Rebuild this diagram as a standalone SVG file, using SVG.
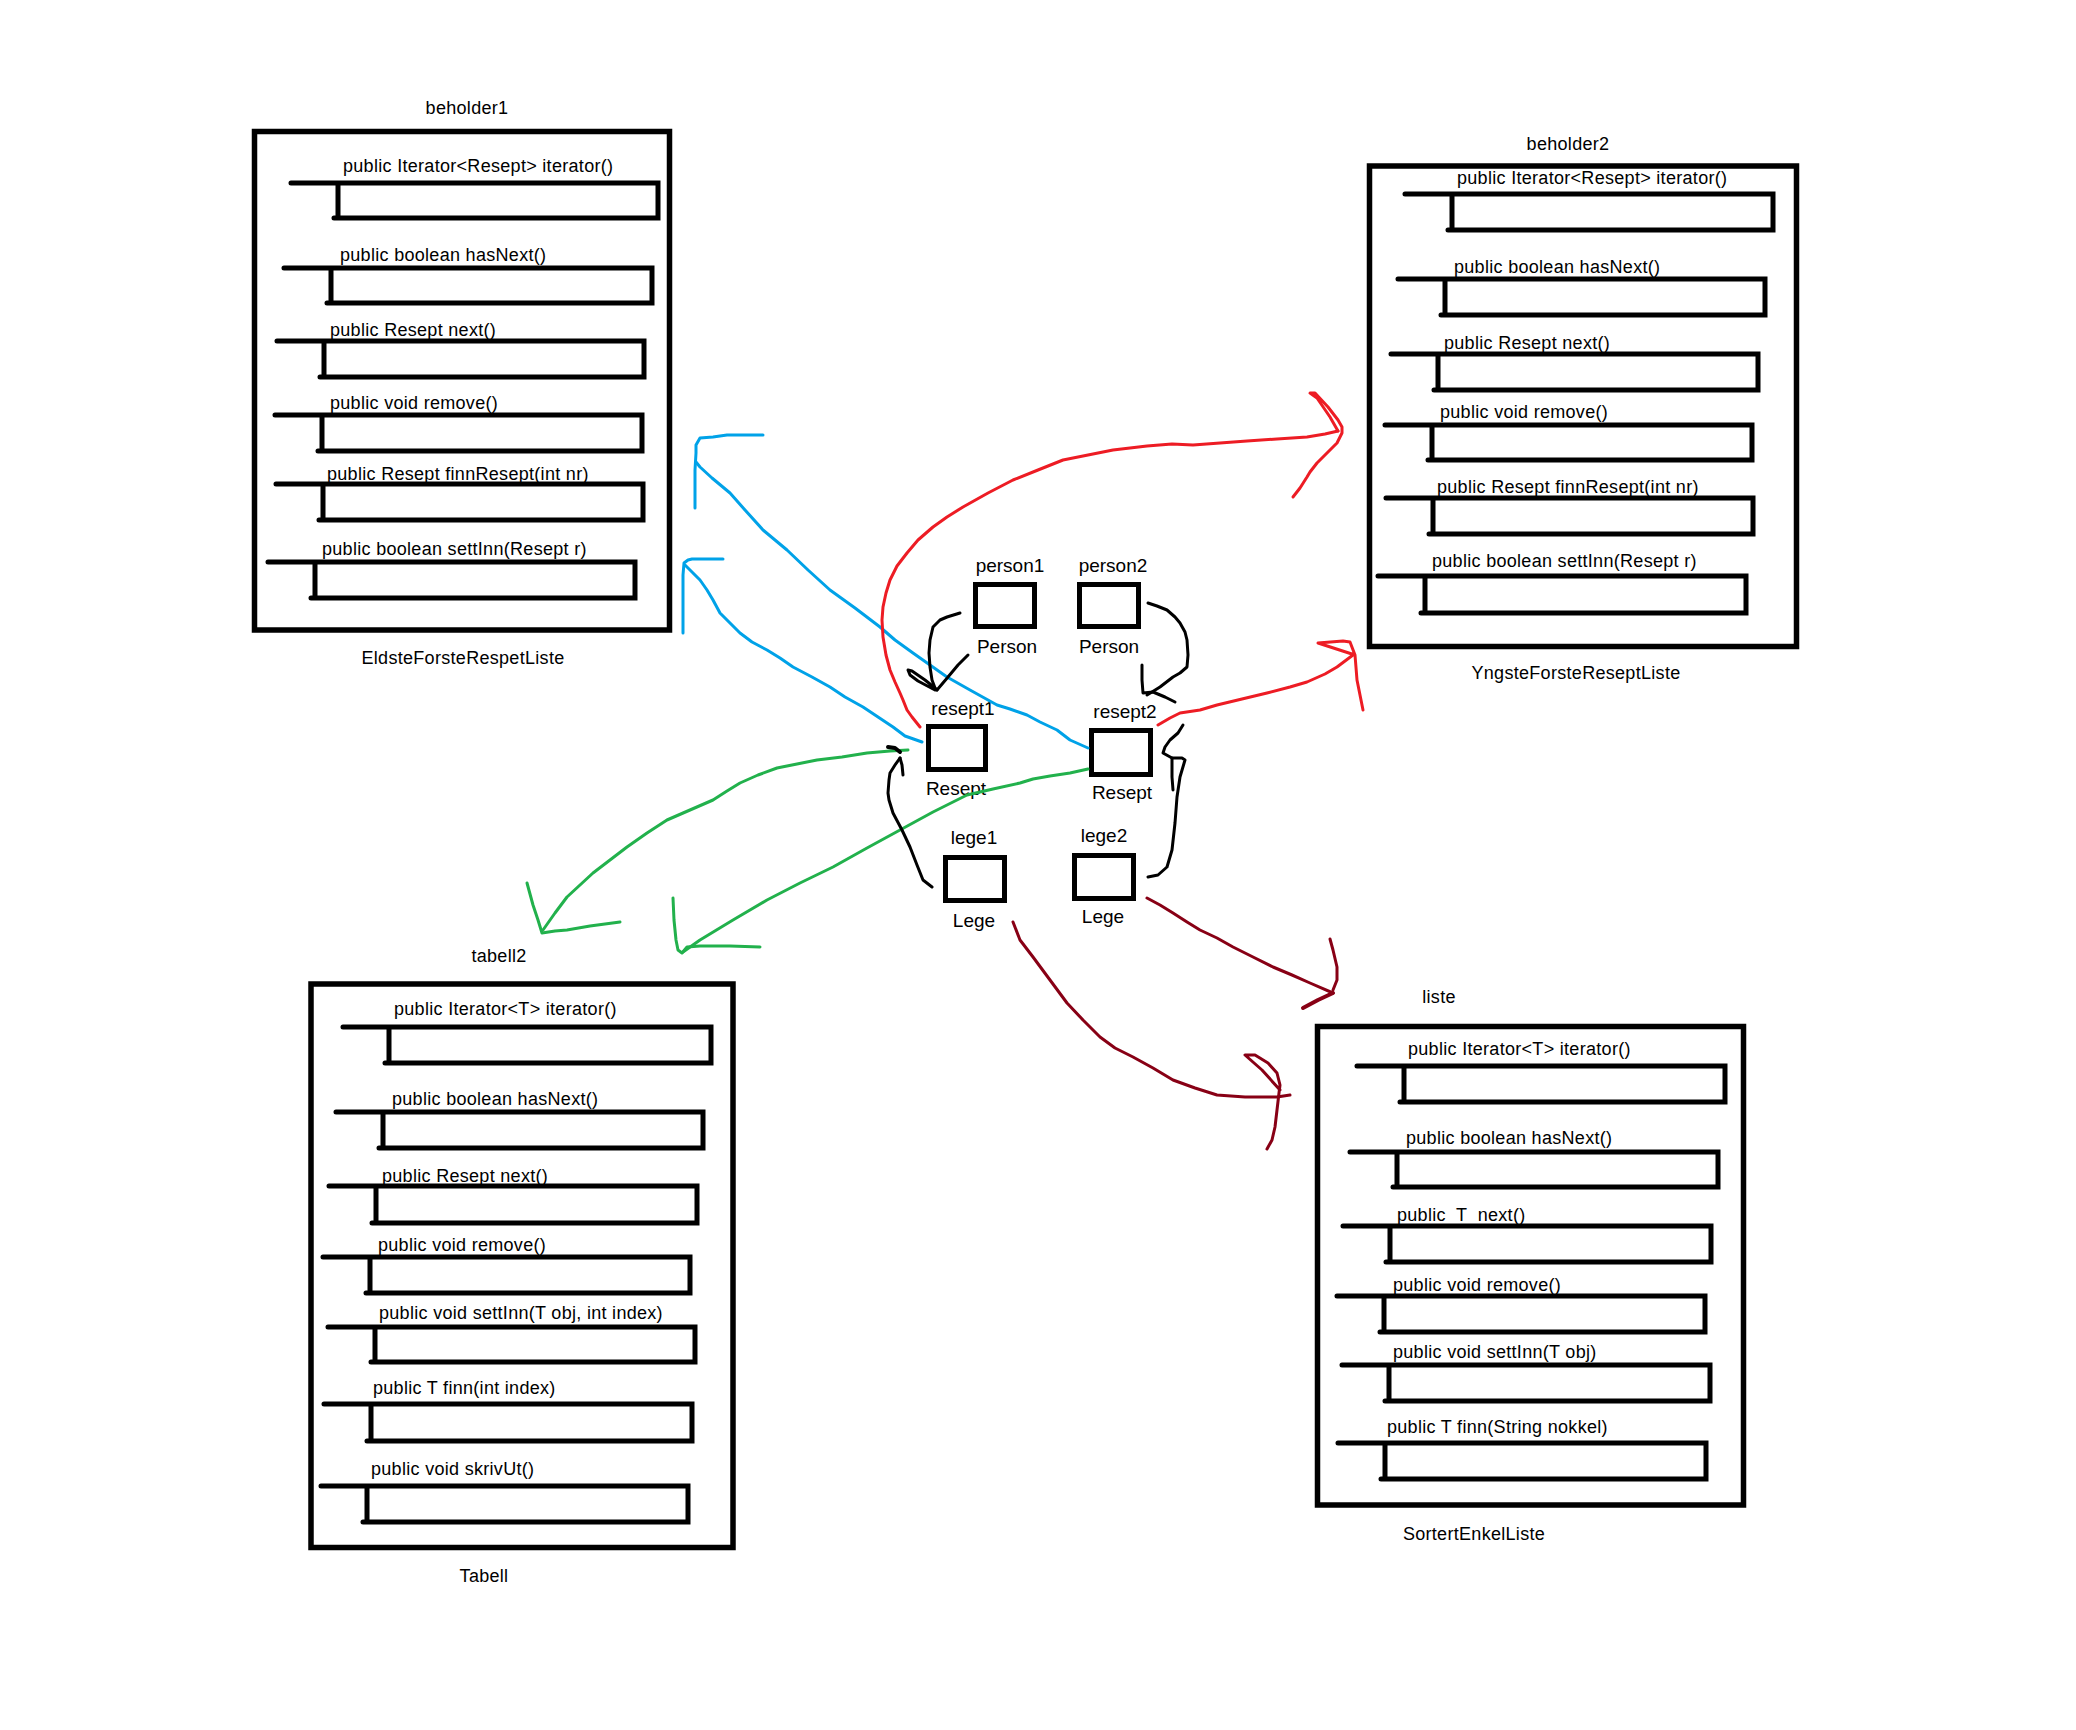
<svg xmlns="http://www.w3.org/2000/svg" width="2076" height="1730" viewBox="0 0 2076 1730">
<style>
.box{fill:none;stroke:#000;stroke-width:5.5}
.row{fill:none;stroke:#000;stroke-width:5;stroke-linecap:round}
.nb{fill:none;stroke:#000;stroke-width:5}
.t{font-family:"Liberation Sans",Arial,sans-serif;font-size:18px;fill:#000;letter-spacing:0.3px}
.n{font-family:"Liberation Sans",Arial,sans-serif;font-size:19px;fill:#000;text-anchor:middle}
.c{text-anchor:middle}
.conn path,.conn polyline{fill:none;stroke-width:3;stroke-linejoin:round;stroke-linecap:round}
.blue{stroke:#00A2E8}
.red{stroke:#ED1C24}
.green{stroke:#22B14C}
.dred{stroke:#880015}
.blk{stroke:#000}
</style>
<rect width="2076" height="1730" fill="#fff"/>

<g id="beholder1">
<text class="t c" x="467" y="114">beholder1</text>
<rect class="box" x="254.5" y="131.5" width="415" height="498.5"/>
<path class="row" d="M291,183H658V218H334M338,183V218"/>
<text class="t" x="343" y="172">public Iterator&lt;Resept&gt; iterator()</text>
<path class="row" d="M284,268H652V303H327M331,268V303"/>
<text class="t" x="340" y="261">public boolean hasNext()</text>
<path class="row" d="M277,341H644V377H320M324,341V377"/>
<text class="t" x="330" y="336">public Resept next()</text>
<path class="row" d="M275,415H642V451H318M322,415V451"/>
<text class="t" x="330" y="409">public void remove()</text>
<path class="row" d="M276,484H643V520H319M323,484V520"/>
<text class="t" x="327" y="480">public Resept finnResept(int nr)</text>
<path class="row" d="M268,562H635V598H311M315,562V598"/>
<text class="t" x="322" y="555">public boolean settInn(Resept r)</text>
<text class="t c" x="463" y="664">EldsteForsteRespetListe</text>
</g>

<g id="beholder2">
<text class="t c" x="1568" y="150">beholder2</text>
<rect class="box" x="1369.5" y="166" width="427" height="480.5"/>
<path class="row" d="M1405,194H1773V230H1448M1452,194V230"/>
<text class="t" x="1457" y="184">public Iterator&lt;Resept&gt; iterator()</text>
<path class="row" d="M1398,279H1765V315H1441M1445,279V315"/>
<text class="t" x="1454" y="273">public boolean hasNext()</text>
<path class="row" d="M1391,354H1758V390H1434M1438,354V390"/>
<text class="t" x="1444" y="349">public Resept next()</text>
<path class="row" d="M1385,425H1752V460H1428M1432,425V460"/>
<text class="t" x="1440" y="418">public void remove()</text>
<path class="row" d="M1386,498H1753V534H1429M1433,498V534"/>
<text class="t" x="1437" y="493">public Resept finnResept(int nr)</text>
<path class="row" d="M1378,576H1746V613H1421M1425,576V613"/>
<text class="t" x="1432" y="567">public boolean settInn(Resept r)</text>
<text class="t c" x="1576" y="679">YngsteForsteReseptListe</text>
</g>

<g id="tabell2">
<text class="t c" x="499" y="962">tabell2</text>
<rect class="box" x="311" y="984" width="422" height="563.5"/>
<path class="row" d="M343,1027H711V1063H385M389,1027V1063"/>
<text class="t" x="394" y="1015">public Iterator&lt;T&gt; iterator()</text>
<path class="row" d="M336,1112H703V1148H379M383,1112V1148"/>
<text class="t" x="392" y="1105">public boolean hasNext()</text>
<path class="row" d="M329,1186H697V1223H372M376,1186V1223"/>
<text class="t" x="382" y="1182">public Resept next()</text>
<path class="row" d="M323,1257H690V1293H366M370,1257V1293"/>
<text class="t" x="378" y="1251">public void remove()</text>
<path class="row" d="M328,1327H695V1362H371M375,1327V1362"/>
<text class="t" x="379" y="1319">public void settInn(T obj, int index)</text>
<path class="row" d="M324,1404H692V1441H367M371,1404V1441"/>
<text class="t" x="373" y="1394">public T finn(int index)</text>
<path class="row" d="M321,1486H688V1522H363M367,1486V1522"/>
<text class="t" x="371" y="1475">public void skrivUt()</text>
<text class="t c" x="484" y="1582">Tabell</text>
</g>

<g id="liste">
<text class="t c" x="1439" y="1003">liste</text>
<rect class="box" x="1317.5" y="1026.5" width="426" height="478.5"/>
<path class="row" d="M1357,1066H1725V1102H1400M1404,1066V1102"/>
<text class="t" x="1408" y="1055">public Iterator&lt;T&gt; iterator()</text>
<path class="row" d="M1350,1152H1718V1187H1393M1397,1152V1187"/>
<text class="t" x="1406" y="1144">public boolean hasNext()</text>
<path class="row" d="M1343,1226H1711V1262H1386M1390,1226V1262"/>
<text class="t" x="1397" y="1221" xml:space="preserve">public  T  next()</text>
<path class="row" d="M1337,1296H1705V1332H1380M1384,1296V1332"/>
<text class="t" x="1393" y="1291">public void remove()</text>
<path class="row" d="M1342,1365H1710V1401H1385M1389,1365V1401"/>
<text class="t" x="1393" y="1358">public void settInn(T obj)</text>
<path class="row" d="M1338,1443H1706V1479H1381M1385,1443V1479"/>
<text class="t" x="1387" y="1433">public T finn(String nokkel)</text>
<text class="t c" x="1474" y="1540">SortertEnkelListe</text>
</g>

<g id="person1">
<text class="n" x="1010" y="572">person1</text>
<rect class="nb" x="975.5" y="584.5" width="59" height="42"/>
<text class="n" x="1007" y="653">Person</text>
</g>
<g id="person2">
<text class="n" x="1113" y="572">person2</text>
<rect class="nb" x="1079.5" y="584.5" width="59" height="42"/>
<text class="n" x="1109" y="653">Person</text>
</g>
<g id="resept1">
<text class="n" x="963" y="715">resept1</text>
<rect class="nb" x="928.5" y="726.5" width="57" height="43"/>
<text class="n" x="956" y="795">Resept</text>
</g>
<g id="resept2">
<text class="n" x="1125" y="718">resept2</text>
<rect class="nb" x="1091.5" y="730.5" width="59" height="44"/>
<text class="n" x="1122" y="799">Resept</text>
</g>
<g id="lege1">
<text class="n" x="974" y="844">lege1</text>
<rect class="nb" x="945.5" y="857.5" width="59" height="43"/>
<text class="n" x="974" y="927">Lege</text>
</g>
<g id="lege2">
<text class="n" x="1104" y="842">lege2</text>
<rect class="nb" x="1074.5" y="855.5" width="59" height="43"/>
<text class="n" x="1103" y="923">Lege</text>
</g>

<g id="connectors" class="conn">
<polyline class="blue" points="1088,748 1070,740 1057,730 1040,722 1027,715 1010,709 997,705 970,690 947,677 930,665 913,653 895,640 880,627 855,608 830,590 808,570 787,550 775,540 763,530 745,510 730,493 712,478 700,467 696,462"/>
<polyline class="blue" points="695,508 695,470 696,453 696,445 700,438 713,437 727,435 763,435"/>
<polyline class="blue" points="922,742 905,736 893,727 878,717 863,707 845,697 830,687 812,677 793,667 780,658 767,650 752,642 740,633 730,623 720,613 713,600 707,590 700,580 693,573 685,565"/>
<polyline class="blue" points="683,633 683,575 684,563 688,560 692,559 723,559"/>
<polyline class="red" points="920,727 912,717 907,710 903,700 900,693 895,682 890,670 886,655 883,637 882,620 883,607 886,593 890,580 897,566 907,553 918,540 933,527 947,517 963,507 988,493 1013,480 1038,470 1063,460 1088,455 1113,450 1130,448 1147,446 1172,444 1193,445 1220,443 1247,441 1277,439 1307,437 1325,434 1338,431"/>
<polyline class="red" points="1338,431 1330,417 1317,398 1310,393 1315,393 1328,407 1338,420 1342,427 1342,433 1337,443 1327,453 1317,463 1310,472 1307,477 1300,488 1293,497"/>
<polyline class="red" points="1158,725 1170,718 1180,713 1200,710 1217,705 1242,699 1267,693 1290,687 1307,682 1325,674 1337,667 1353,655"/>
<polyline class="red" points="1355,655 1318,643 1343,641 1350,642 1355,655 1357,680 1360,695 1363,710"/>
<polyline class="green" points="908,750 890,751 867,753 842,757 817,760 797,764 777,768 758,775 740,783 727,791 713,800 690,810 667,820 647,833 627,847 610,860 593,873 580,885 567,897 555,913 543,930"/>
<polyline class="green" points="527,883 533,905 538,920 542,933 555,931 567,930 590,926 620,922"/>
<polyline class="green" points="1088,769 1070,773 1050,776 1033,779 1020,783 993,789 967,795 933,812 900,830 867,848 833,867 800,883 767,900 733,920 700,940 683,952"/>
<polyline class="green" points="673,898 674,920 676,940 678,950 682,953 687,947 700,946 730,946 760,947"/>
<polyline class="dred" points="1013,922 1020,940 1033,957 1050,980 1067,1003 1083,1020 1100,1037 1115,1048 1133,1057 1153,1068 1173,1080 1195,1088 1217,1095 1245,1097 1277,1097 1290,1095"/>
<polyline class="dred" points="1280,1090 1262,1070 1245,1055 1255,1055 1268,1063 1277,1073 1280,1085 1279,1093 1277,1110 1275,1127 1272,1140 1267,1149"/>
<polyline class="dred" points="1147,898 1160,905 1173,913 1187,922 1200,930 1217,938 1233,947 1253,957 1273,967 1292,975 1310,983 1333,993"/>
<polyline class="dred" points="1330,939 1333,950 1337,967 1337,980 1333,990"/>
<polyline class="dred" style="stroke-width:4" points="1333,993 1318,1000 1303,1008"/>
<polyline class="blk" points="960,613 947,617 940,620 933,627 930,640 929,653 930,667 932,680 935,688 937,690"/>
<polyline class="blk" points="937,690 948,677 958,665 968,655"/>
<polyline class="blk" points="935,688 925,680 912,671 908,670 910,675 918,681 935,690"/>
<polyline class="blk" points="1148,603 1157,606 1167,610 1175,617 1180,623 1185,632 1187,640 1188,655 1187,667 1180,673 1173,677 1160,687 1152,692 1147,695"/>
<polyline class="blk" points="1142,665 1142,680 1143,693 1153,692 1165,697 1175,702"/>
<polyline class="blk" points="932,887 923,880 917,865 910,847 902,830 893,813 889,800 888,793 889,780 890,773 895,765 900,758"/>
<polyline class="blk" points="900,758 902,765 903,775"/>
<polyline class="blk" style="stroke-width:4" points="888,747 895,748 900,752"/>
<polyline class="blk" points="1148,877 1158,875 1167,867 1172,850 1175,823 1177,797 1180,777 1185,760 1182,758 1172,758 1172,777 1173,790"/>
<polyline class="blk" points="1172,758 1163,753 1165,747 1170,740 1178,733 1183,725"/>
</g>
</svg>
